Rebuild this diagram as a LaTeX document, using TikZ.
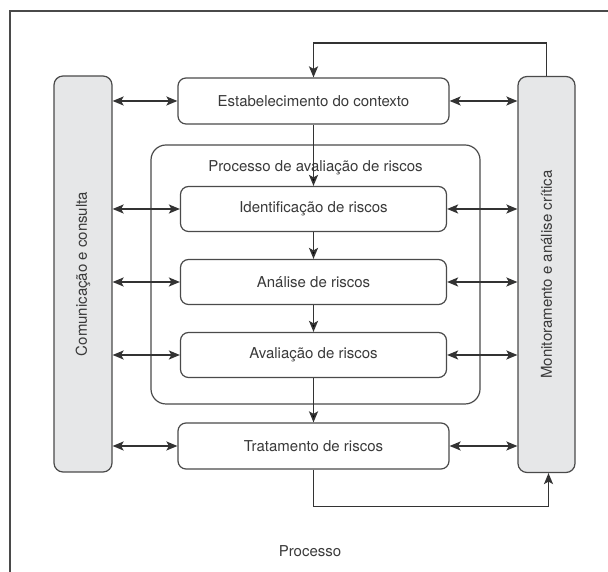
\documentclass[tikz,border=0pt]{standalone}
\usepackage{graphicx}
\usepackage{fontspec}
\setmainfont{TeX Gyre Heros}
\usetikzlibrary{arrows.meta, positioning}
\definecolor{linegray}{HTML}{4A4A4A}
\definecolor{arrowgray}{HTML}{333333}
\definecolor{sidefill}{HTML}{E6E7E8}
\definecolor{textgray}{HTML}{3A3A3A}

\begin{document}
\begin{tikzpicture}[
        x=1pt, y=1pt, on grid, node distance=73pt, >={Stealth[length=11pt, width=9pt, inset=2.5pt]},
        every node/.style={text=textgray, font=\fontsize{15}{18}\selectfont},
        stepbox/.style={draw=linegray, line width=1.2pt, rounded corners=8pt, fill=white,
          minimum width=266pt, minimum height=45pt, inner sep=0pt},
        sidebox/.style={draw=linegray, line width=1.2pt, rounded corners=9pt, fill=sidefill,
          minimum width=58pt, minimum height=396pt, inner sep=0pt},
        link/.style={draw=arrowgray, line width=1.6pt},
        ]
        \useasboundingbox (0,0) rectangle (608,572);
        \draw[linegray, line width=1.5pt] (10,0) |- (608,561);

        \node[stepbox, minimum width=271pt, minimum height=46pt] (ctx) at (313.5,471) {Estabelecimento do contexto};
        \node[draw=linegray, line width=1.2pt, rounded corners=15pt, minimum width=329pt, minimum height=259pt] (frame) at (315.5,297.5) {};
        \node (frametitle) [below=13pt of frame.north] {Processo de avaliação de riscos};
        \node[stepbox] (ident) at (313.5,363) {Identificação de riscos};
        \node[stepbox] (anal) [below=of ident] {Análise de riscos};
        \node[stepbox] (aval) [below=of anal] {Avaliação de riscos};
        \node[stepbox, minimum width=271pt, minimum height=46pt] (trat) [below=91pt of aval] {Tratamento de riscos};

        \node[sidebox] (com) at (83,298) {\rotatebox{90}{Comunicação e consulta}};
        \node[sidebox, minimum width=57pt] (mon) at (546.5,297.5) {\rotatebox{90}{Monitoramento e análise crítica}};
        \node (proc) at (310,21) {Processo};

        \foreach \s in {ctx,ident,anal,aval,trat} {
          \draw[<->, link] (com.east |- \s) -- (\s);
          \draw[<->, link] (\s) -- (mon.west |- \s);
        }
        \path[->, link] (ctx) edge (ident)
        (ident) edge (anal)
        (anal) edge (aval)
        (aval) edge (trat);

        \draw[->, link] (mon.north) -- ++(0,33) -| (ctx.north);
        \draw[->, link] (trat.south) -- ++(0,-37) -| ([xshift=2pt]mon.south);
      \end{tikzpicture}
\end{document}
